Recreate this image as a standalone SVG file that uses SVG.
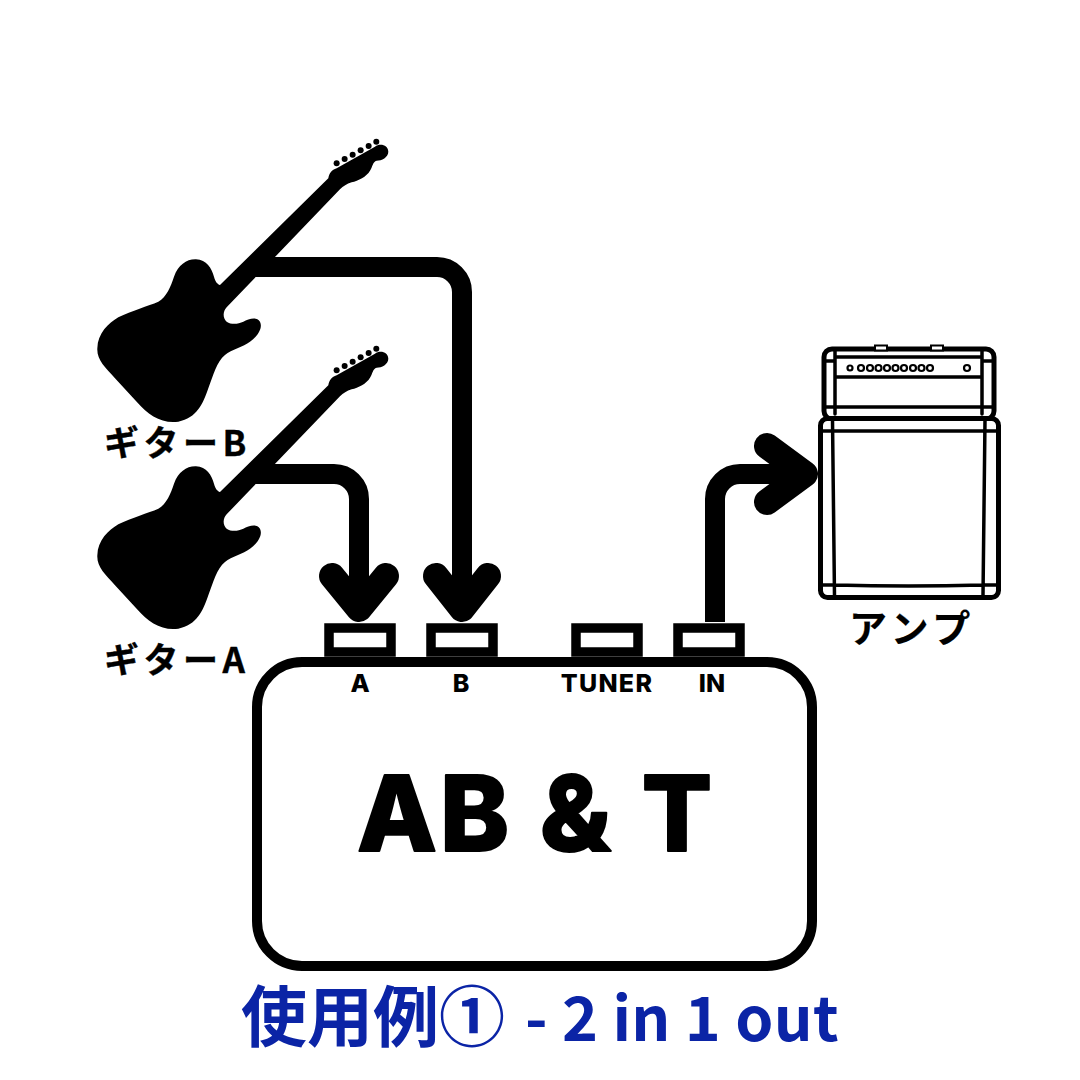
<svg xmlns="http://www.w3.org/2000/svg" width="1080" height="1080" viewBox="0 0 1080 1080">
<style>
.t{font-family:"Noto Sans CJK JP","Noto Sans",sans-serif;font-weight:700;fill:#000;stroke:#000;stroke-linejoin:round}
.p{font-family:Inter,"Noto Sans",sans-serif;font-weight:800;fill:#000;text-anchor:middle;font-size:25px}
.c{fill:none;stroke:#000;stroke-width:20;stroke-linejoin:round}
.h{fill:none;stroke:#000;stroke-width:26;stroke-linecap:round;stroke-linejoin:round}
.port{fill:#fff;stroke:#000;stroke-width:9.5}
.a{stroke:#000;stroke-width:5;stroke-linecap:round;stroke-linejoin:round}
.a2{fill:none;stroke:#000;stroke-width:3.500;stroke-linecap:round}
.ti{font-family:"Noto Sans CJK JP","Noto Sans",sans-serif;font-weight:700;fill:#0b24a6}
</style>
<defs>
<g id="guitar" transform="scale(.3333)">
<path fill="#000" d="M420 495L745 175C748 160 755 150 770 145L885 80C900 68 925 75 925 95C925 112 905 122 890 122C878 125 878 140 870 152C860 170 835 182 815 187C800 192 790 198 780 208L440 562C428 575 428 595 440 605C455 615 475 612 490 605C505 597 530 588 540 605C550 625 530 652 510 665C490 680 455 688 435 705C410 725 400 765 385 805C370 850 350 895 295 905C245 912 205 885 170 845L105 775C75 742 50 720 52 685C53 640 85 610 115 592C155 572 205 558 235 545C260 530 272 500 282 470C295 435 320 417 348 418C380 420 395 445 402 470C406 485 412 492 420 495Z"/>
<g fill="#000"><circle cx="770" cy="130" r="9"/><circle cx="794" cy="117" r="9"/><circle cx="818" cy="104" r="9"/><circle cx="842" cy="91" r="9"/><circle cx="866" cy="78" r="9"/><circle cx="889" cy="65" r="9"/></g>
</g>
</defs>
<g id="connectors">
<path class="c" d="M255 267H437A25 25 0 0 1 462 292V605"/><path class="h" d="M436 576L462 609L488 576"/>
<path class="c" d="M255 474H334A25 25 0 0 1 359 499V605"/><path class="h" d="M332 576L359 609L386 576"/>
<path class="c" d="M715 622V499A25 25 0 0 1 740 474H800"/><path class="h" d="M767 446L805 474L767 502"/>
</g>
<g id="guitar-b"><use href="#guitar" x="80" y="120"/><text class="t" x="104" y="456" font-size="35" stroke-width=".4" letter-spacing="4.500">ギターB</text></g>
<g id="guitar-a"><use href="#guitar" x="80" y="327"/><text class="t" x="104" y="673" font-size="35" stroke-width=".4" letter-spacing="4.500">ギターA</text></g>
<g id="amp">
<rect x="824" y="349" width="170" height="70" rx="8" class="a" fill="#fff"/>
<path class="a2" d="M835 351V414M982 351V414M826 361H835M982 361H992M826 407H992M835 357H982M835 377H982"/>
<rect x="875" y="345.500" width="12" height="5" fill="#fff" stroke="#000" stroke-width="2"/>
<rect x="931" y="345.500" width="12" height="5" fill="#fff" stroke="#000" stroke-width="2"/>
<g fill="#fff" stroke="#000" stroke-width="2.200"><circle cx="850" cy="368" r="2.500"/><circle cx="861" cy="368" r="3"/><circle cx="870" cy="368" r="3"/><circle cx="878.500" cy="368" r="3"/><circle cx="887" cy="368" r="3"/><circle cx="895.500" cy="368" r="3"/><circle cx="904" cy="368" r="3"/><circle cx="913" cy="368" r="3"/><circle cx="921.500" cy="368" r="3"/><circle cx="930" cy="368" r="3"/><circle cx="967" cy="368" r="3"/></g>
<rect x="820.500" y="418.500" width="178" height="179" rx="7" class="a" fill="#fff"/>
<path class="a2" d="M832.500 420L834.500 596M985 420L983 596M822 431H997M835 585Q908 587 983 585M822 585H835M983 585H997"/>
<text class="t" x="849" y="642" font-size="38" stroke-width=".2" letter-spacing="5">アンプ</text>
</g>
<g id="ab-t">
<rect x="257" y="662" width="555" height="304" rx="45" fill="#fff" stroke="#000" stroke-width="10"/>
<text x="536" y="851" text-anchor="middle" font-family="Inter,'Noto Sans',sans-serif" font-weight="800" font-size="104" stroke="#000" stroke-width="2" stroke-linejoin="round" letter-spacing="3" word-spacing="2">AB &amp; T</text>
</g>
<g id="port-a"><rect class="port" x="329" y="628" width="62" height="24"/><text class="p" x="360" y="692">A</text></g>
<g id="port-b"><rect class="port" x="431" y="628" width="62" height="24"/><text class="p" x="461" y="692">B</text></g>
<g id="port-tuner"><rect class="port" x="576" y="628" width="62" height="24"/><text class="p" x="607" y="692" letter-spacing="1.300">TUNER</text></g>
<g id="port-in"><rect class="port" x="678" y="628" width="62" height="24"/><text class="p" x="712" y="692">IN</text></g>
<text class="ti" x="241" y="1041" font-size="66">使用例①</text>
<text class="ti" x="525" y="1041" font-size="61" letter-spacing=".3" xml:space="preserve">- 2 in 1 out</text>
</svg>
